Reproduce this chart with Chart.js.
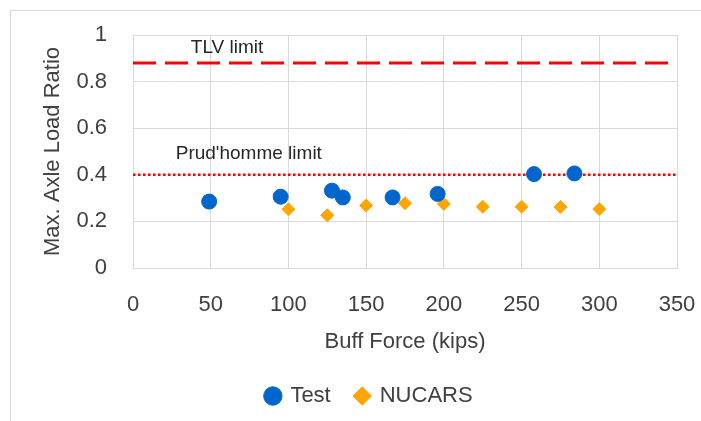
<!DOCTYPE html>
<html>
<head>
<meta charset="utf-8">
<script src="https://cdn.jsdelivr.net/npm/chart.js@4/dist/chart.umd.min.js"></script>
<style>
  html, body { margin: 0; padding: 0; background: #fff; }
  #wrap { position: relative; width: 701px; height: 421px; }
  /* the picture is cut from a framed chart: only top and left frame edges show */
  #frame { position: absolute; left: 10px; top: 10px; right: -5px; bottom: -5px; border: 1px solid #d9d9d9; }
  canvas { position: absolute; left: 0; top: 0; }
</style>
</head>
<body>
<div id="wrap">
  <div id="frame"></div>
  <canvas id="chart" width="701" height="421"></canvas>
</div>
<script>
// values
const testForce = [49, 95, 128, 135, 167, 196, 258, 284];
const testRatio = [0.285, 0.306, 0.332, 0.303, 0.303, 0.318, 0.403, 0.406];

const nucarsForce = [100, 125, 150, 175, 200, 225, 250, 275, 300];
const nucarsRatio = [0.252, 0.226, 0.268, 0.278, 0.275, 0.263, 0.263, 0.262, 0.253];

// limit lines
const tlvLimit = 0.88;
const prudLimit = 0.4;
const xRange = [0, 350];

const font = "'Liberation Sans', Arial, sans-serif";
const textColor = "#404040";

const toPoints = (xs, ys) => xs.map((x, i) => ({ x: x, y: ys[i] }));

// draws the two line captions at data coordinates
const captions = {
    id: "captions",
    afterDatasetsDraw(chart) {
        const { ctx, scales: { x, y } } = chart;
        ctx.save();
        ctx.font = "19px " + font;
        ctx.fillStyle = "#262626";
        ctx.textAlign = "center";
        ctx.textBaseline = "middle";
        ctx.fillText("TLV limit", x.getPixelForValue(60.5), y.getPixelForValue(0.945));
        ctx.fillText("Prud'homme limit", x.getPixelForValue(74.5), y.getPixelForValue(0.49));
        ctx.restore();
    },
};

// move the legend a bit to the right, like the original
const legendShift = {
    id: "legendShift",
    afterLayout(chart) {
        chart.legend.left += 17;
        chart.legend.right += 17;
    },
};

new Chart(document.getElementById("chart"), {
    type: "scatter",
    data: {
        datasets: [
            {
                label: "Test",
                data: toPoints(testForce, testRatio),
                pointStyle: "circle",
                pointRadius: 7.5,
                pointHoverRadius: 7.5,
                backgroundColor: "#0066CC",
                borderColor: "#0066CC",
                order: 0,
            },
            {
                label: "NUCARS",
                data: toPoints(nucarsForce, nucarsRatio),
                pointStyle: "rectRot",
                pointRadius: 6.5,
                pointHoverRadius: 6.5,
                backgroundColor: "#FFA500",
                borderColor: "#FFA500",
                order: 0,
            },
            {
                label: "TLV",
                data: toPoints(xRange, [tlvLimit, tlvLimit]),
                showLine: true,
                borderColor: "#FF0000",
                borderWidth: 3,
                borderDash: [23, 9],
                pointRadius: 0,
                order: 1,
            },
            {
                label: "Prud",
                data: toPoints(xRange, [prudLimit, prudLimit]),
                showLine: true,
                borderColor: "#FF0000",
                borderWidth: 2.5,
                borderDash: [2.5, 2.5],
                pointRadius: 0,
                order: 1,
            },
        ],
    },
    options: {
        responsive: false,
        animation: false,
        layout: { padding: { top: 35, left: 28, right: 24, bottom: 4 } },
        plugins: {
            tooltip: { enabled: false },
            legend: {
                position: "bottom",
                labels: {
                    filter: (item) => item.text === "Test" || item.text === "NUCARS",
                    usePointStyle: true,
                    boxWidth: 13,
                    boxHeight: 13,
                    padding: 25,
                    color: textColor,
                    font: { family: font, size: 22 },
                },
            },
        },
        scales: {
            x: {
                min: 0,
                max: 350,
                ticks: { stepSize: 50, padding: 24, color: textColor, font: { family: font, size: 22 } },
                grid: { color: "#d9d9d9", drawTicks: false },
                border: { color: "#d9d9d9" },
                title: {
                    display: true,
                    text: "Buff Force (kips)",
                    color: textColor,
                    font: { family: font, size: 22 },
                    padding: { top: 0, bottom: 5 },
                },
                afterFit(scale) {
                    scale.height = 92;
                    // label overflow fits inside the layout padding
                    scale.paddingLeft = 0;
                    scale.paddingRight = 0;
                },
            },
            y: {
                min: 0,
                max: 1,
                ticks: {
                    stepSize: 0.2,
                    padding: 26,
                    color: textColor,
                    font: { family: font, size: 22 },
                    callback: (v) => Math.round(v * 10) / 10,
                },
                grid: { color: "#d9d9d9", drawTicks: false },
                border: { color: "#d9d9d9" },
                title: {
                    display: true,
                    text: "Max. Axle Load Ratio",
                    color: textColor,
                    font: { family: font, size: 22 },
                    padding: { top: 12, bottom: 0 },
                },
                afterFit(scale) {
                    scale.width = 105;
                    scale.paddingTop = 0;
                    scale.paddingBottom = 0;
                },
            },
        },
    },
    plugins: [captions, legendShift],
});
</script>
</body>
</html>
